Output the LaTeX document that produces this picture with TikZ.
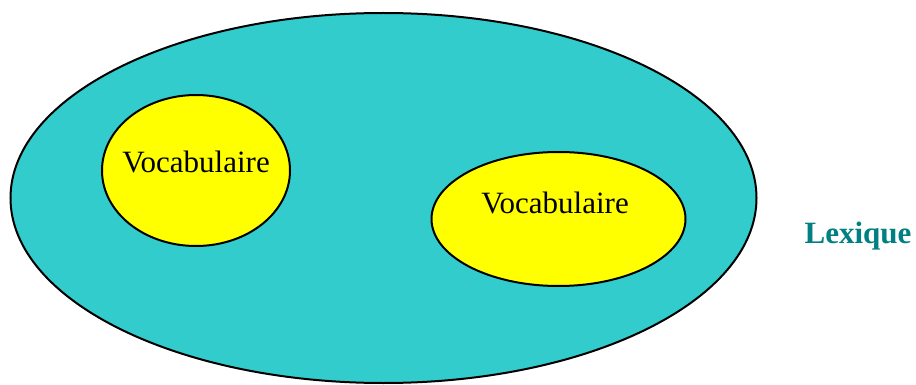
\documentclass[tikz,border=0pt]{standalone}
\usepackage{fontspec}
\setmainfont{Liberation Serif}
\usetikzlibrary{shapes.geometric}
\definecolor{lexfill}{HTML}{33CCCC}
\definecolor{vocfill}{HTML}{FFFF00}
\definecolor{lextext}{HTML}{008080}
\begin{document}
\begin{tikzpicture}[x=1pt,y=-1pt,
  blob/.style={ellipse, draw=black, line width=2pt, inner sep=0pt},
  voclabel/.style={font=\fontsize{31}{31}\selectfont, anchor=base, inner sep=0pt},
  lexlabel/.style={font=\fontsize{31}{31}\selectfont\bfseries, text=lextext, anchor=base, inner sep=0pt}]
\useasboundingbox (0,0) rectangle (916,385);
\node[blob, fill=lexfill, minimum width=746pt, minimum height=370pt] (lex) at (383.5,198) {};
\node[blob, fill=vocfill, minimum width=188pt, minimum height=151pt] (v1) at (196,170.5) {};
\node[blob, fill=vocfill, minimum width=254pt, minimum height=134pt] (v2) at (558.5,219) {};
\node[voclabel] (t1) at (196,172) {Vocabulaire};
\node[voclabel] (t2) at (555,213) {Vocabulaire};
\node[lexlabel] (t3) at (858,243) {Lexique};
\end{tikzpicture}
\end{document}
